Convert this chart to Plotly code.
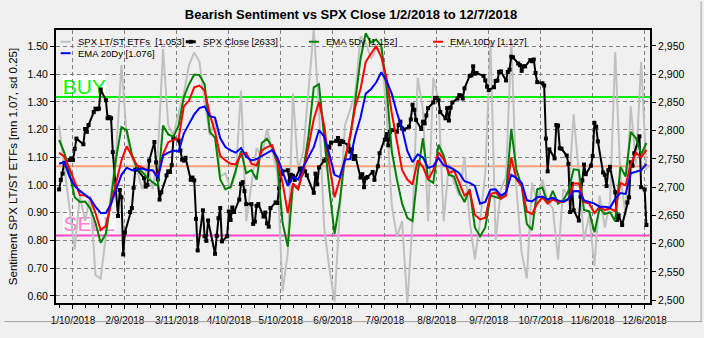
import pandas as pd
import plotly.graph_objects as go

# ---------------- data ----------------
# S&P 500 trading days in 2018 (month -> day of month)
trade_days = {
    1: [2, 3, 4, 5, 8, 9, 10, 11, 12, 16, 17, 18, 19, 22, 23, 24, 25, 26, 29, 30, 31],
    2: [1, 2, 5, 6, 7, 8, 9, 12, 13, 14, 15, 16, 20, 21, 22, 23, 26, 27, 28],
    3: [1, 2, 5, 6, 7, 8, 9, 12, 13, 14, 15, 16, 19, 20, 21, 22, 23, 26, 27, 28, 29],
    4: [2, 3, 4, 5, 6, 9, 10, 11, 12, 13, 16, 17, 18, 19, 20, 23, 24, 25, 26, 27, 30],
    5: [1, 2, 3, 4, 7, 8, 9, 10, 11, 14, 15, 16, 17, 18, 21, 22, 23, 24, 25, 29, 30, 31],
    6: [1, 4, 5, 6, 7, 8, 11, 12, 13, 14, 15, 18, 19, 20, 21, 22, 25, 26, 27, 28, 29],
    7: [2, 3, 5, 6, 9, 10, 11, 12, 13, 16, 17, 18, 19, 20, 23, 24, 25, 26, 27, 30, 31],
    8: [1, 2, 3, 6, 7, 8, 9, 10, 13, 14, 15, 16, 17, 20, 21, 22, 23, 24, 27, 28, 29, 30, 31],
    9: [4, 5, 6, 7, 10, 11, 12, 13, 14, 17, 18, 19, 20, 21, 24, 25, 26, 27, 28],
    10: [1, 2, 3, 4, 5, 8, 9, 10, 11, 12, 15, 16, 17, 18, 19, 22, 23, 24, 25, 26, 29, 30, 31],
    11: [1, 2, 5, 6, 7, 8, 9, 12, 13, 14, 15, 16, 19, 20, 21, 23, 26, 27, 28, 29, 30],
    12: [3, 4, 6, 7],
}

spx_close = [
    2696, 2713, 2724, 2743, 2748, 2751, 2748, 2768, 2786, 2776, 2803, 2798, 2810, 2833, 2839, 2838, 2839, 2873, 2854, 2822, 2824,
    2822, 2762, 2649, 2695, 2682, 2581, 2620, 2656, 2663, 2699, 2731, 2732, 2716, 2701, 2704, 2747, 2780, 2744, 2714,
    2678, 2691, 2721, 2728, 2727, 2739, 2787, 2783, 2765, 2749, 2747, 2752, 2713, 2717, 2712, 2644, 2588, 2659, 2613, 2605, 2641,
    2582, 2614, 2645, 2663, 2604, 2613, 2657, 2642, 2664, 2656, 2678, 2706, 2709, 2693, 2670, 2670, 2635, 2639, 2667, 2670, 2648,
    2655, 2636, 2630, 2663, 2673, 2672, 2698, 2723, 2728, 2730, 2711, 2722, 2720, 2713, 2733, 2724, 2733, 2728, 2721, 2690, 2724, 2705,
    2735, 2747, 2749, 2772, 2770, 2779, 2782, 2787, 2776, 2782, 2780, 2774, 2763, 2767, 2750, 2755, 2717, 2723, 2700, 2716, 2718,
    2727, 2713, 2737, 2760, 2784, 2794, 2774, 2798, 2801, 2798, 2810, 2816, 2804, 2802, 2807, 2820, 2846, 2837, 2819, 2803, 2816,
    2813, 2827, 2840, 2850, 2858, 2858, 2854, 2833, 2822, 2840, 2818, 2841, 2850, 2857, 2863, 2862, 2857, 2875, 2897, 2898, 2914, 2901, 2902,
    2897, 2889, 2878, 2872, 2877, 2888, 2889, 2904, 2905, 2889, 2904, 2908, 2931, 2930, 2919, 2916, 2906, 2914, 2914,
    2925, 2923, 2926, 2902, 2886, 2884, 2880, 2786, 2728, 2767, 2751, 2810, 2809, 2769, 2768, 2756, 2741, 2656, 2706, 2659, 2641, 2683, 2712,
    2740, 2723, 2738, 2755, 2814, 2807, 2781, 2726, 2722, 2702, 2730, 2736, 2691, 2642, 2650, 2633, 2673, 2682, 2744, 2738, 2760,
    2790, 2700, 2696, 2633,
]

# Sentiment: SPX long-term / short-term ETF ratio and its EMAs,
# one value every 3 calendar days starting 1/2/2018
sent_start = "2018-01-02"
sent_step = "3D"

ratio_raw = [
    1.215, 1.066, 0.916, 0.767, 0.962, 0.870, 0.962, 0.675, 0.663, 0.813,
    0.962, 1.123, 1.433, 1.180, 1.100, 1.054, 0.985, 1.077, 0.985, 1.111,
    1.491, 1.215, 1.180, 1.261, 1.330, 1.433, 1.479, 1.445, 1.307, 1.180,
    1.238, 1.031, 1.043, 0.985, 1.043, 1.341, 0.870, 1.008, 1.134, 1.100,
    1.203, 1.123, 1.043, 0.617, 0.755, 1.330, 1.054, 1.123, 1.330, 1.565,
    1.272, 0.847, 0.700, 0.580, 0.905, 1.215, 1.272, 1.330, 1.537, 1.514,
    1.457, 1.491, 1.491, 1.261, 0.928, 0.813, 0.870, 0.571, 0.870, 1.387,
    1.272, 0.870, 1.387, 1.307, 0.870, 1.077, 1.008, 0.962, 1.100, 0.870,
    0.732, 0.870, 1.043, 1.514, 0.801, 0.985, 1.031, 1.525, 0.985, 0.755,
    0.663, 1.008, 0.939, 1.020, 0.939, 0.916, 0.732, 0.985, 0.962, 1.255,
    1.043, 0.801, 0.893, 0.709, 0.962, 0.847, 0.939, 1.480, 1.031, 0.893,
    1.284, 1.077, 1.445, 1.053,
]

ema_5 = [
    1.163, 1.117, 1.043, 0.956, 0.939, 0.941, 0.916, 0.864, 0.792, 0.824,
    0.951, 1.100, 1.209, 1.198, 1.111, 1.060, 1.048, 1.025, 1.010, 0.997,
    1.215, 1.183, 1.175, 1.215, 1.318, 1.364, 1.399, 1.397, 1.364, 1.192,
    1.171, 1.020, 0.985, 0.993, 1.054, 1.123, 1.043, 1.054, 1.020, 1.152,
    1.167, 1.137, 1.077, 0.864, 0.778, 1.002, 0.985, 1.054, 1.180, 1.353,
    1.364, 1.169, 0.985, 0.824, 0.939, 1.100, 1.169, 1.307, 1.456, 1.548,
    1.514, 1.525, 1.502, 1.353, 1.123, 1.020, 0.933, 0.882, 0.870, 1.043,
    1.169, 1.020, 1.008, 1.146, 1.106, 1.037, 1.031, 0.974, 0.939, 0.985,
    0.847, 0.815, 0.847, 0.962, 0.956, 0.951, 0.974, 1.203, 1.054, 0.997,
    0.859, 0.838, 0.985, 0.991, 0.933, 0.979, 0.933, 0.945, 0.979, 1.057,
    1.054, 0.910, 0.905, 0.830, 0.916, 0.895, 0.902, 0.870, 1.066, 1.031,
    1.192, 1.169, 1.111, 1.152,
]

ema_10 = [
    1.117, 1.102, 1.060, 1.008, 0.964, 0.962, 0.951, 0.899, 0.838, 0.853,
    0.933, 1.020, 1.089, 1.140, 1.106, 1.071, 1.063, 1.054, 1.054, 1.031,
    1.111, 1.155, 1.163, 1.169, 1.284, 1.305, 1.353, 1.359, 1.341, 1.255,
    1.192, 1.106, 1.089, 1.077, 1.075, 1.111, 1.117, 1.077, 1.071, 1.125,
    1.137, 1.144, 1.089, 1.008, 0.899, 1.006, 0.987, 1.054, 1.140, 1.238,
    1.301, 1.215, 1.071, 0.956, 1.020, 1.089, 1.180, 1.284, 1.347, 1.445,
    1.474, 1.502, 1.462, 1.387, 1.261, 1.163, 1.054, 1.020, 1.002, 1.089,
    1.066, 1.020, 1.054, 1.117, 1.094, 1.043, 1.052, 1.008, 0.962, 0.979,
    0.893, 0.876, 0.882, 0.968, 0.974, 0.951, 0.962, 1.100, 1.020, 0.997,
    0.905, 0.895, 0.933, 0.956, 0.933, 0.948, 0.939, 0.939, 0.948, 1.006,
    1.006, 0.939, 0.933, 0.899, 0.922, 0.910, 0.916, 0.905, 1.008, 0.999,
    1.077, 1.117, 1.100, 1.127,
]

ema_20 = [
    1.077, 1.083, 1.031, 0.997, 0.979, 0.964, 0.951, 0.922, 0.899, 0.899,
    0.933, 0.985, 1.037, 1.063, 1.054, 1.056, 1.060, 1.054, 1.054, 1.025,
    1.106, 1.117, 1.125, 1.121, 1.186, 1.221, 1.255, 1.278, 1.284, 1.249,
    1.244, 1.169, 1.137, 1.125, 1.117, 1.134, 1.102, 1.089, 1.094, 1.105,
    1.115, 1.126, 1.100, 1.048, 0.997, 1.029, 1.020, 1.066, 1.100, 1.137,
    1.198, 1.175, 1.111, 1.037, 1.029, 1.092, 1.094, 1.180, 1.244, 1.330,
    1.346, 1.370, 1.407, 1.376, 1.330, 1.261, 1.203, 1.123, 1.083, 1.111,
    1.100, 1.062, 1.068, 1.098, 1.071, 1.066, 1.056, 1.043, 1.014, 1.008,
    0.997, 0.933, 0.939, 0.983, 0.985, 0.962, 0.974, 1.037, 1.025, 1.008,
    0.945, 0.941, 0.956, 0.959, 0.948, 0.954, 0.945, 0.939, 0.951, 0.978,
    0.979, 0.945, 0.939, 0.933, 0.922, 0.922, 0.918, 0.951, 0.971, 0.968,
    1.043, 1.048, 1.054, 1.076,
]

ratio_mean = 1.068
ratio_sd = 0.25

x_ticks = ["1/10/2018", "2/9/2018", "3/11/2018", "4/10/2018", "5/10/2018", "6/9/2018",
           "7/9/2018", "8/8/2018", "9/7/2018", "10/7/2018", "11/6/2018", "12/6/2018"]
left_ticks = [0.60, 0.70, 0.80, 0.90, 1.00, 1.10, 1.20, 1.30, 1.40, 1.50]
right_ticks = [2500, 2550, 2600, 2650, 2700, 2750, 2800, 2850, 2900, 2950]

# ---------------- build ----------------
spx_dates = [pd.Timestamp(2018, m, d) for m, days in trade_days.items() for d in days]
sent_dates = pd.date_range(sent_start, periods=len(ratio_raw), freq=sent_step)
tick_dates = [pd.to_datetime(t, format="%m/%d/%Y") for t in x_ticks]

W, H = 704, 338
L, R, T, B = 52, 54, 30, 22
PW, PH = W - L - R, H - T - B


def px(xp):
    return (xp - L) / PW


def py(yp):
    return (H - B - yp) / PH


FONT = "Liberation Sans, Arial, sans-serif"
GRAY = "#c0c0c0"
GREEN = "#008000"
RED = "#ff0000"
BLUE = "#0000ff"

fig = go.Figure()

fig.add_trace(go.Scatter(x=sent_dates, y=ratio_raw, mode="lines",
                         line=dict(color=GRAY, width=2), yaxis="y", showlegend=False))
fig.add_trace(go.Scatter(x=spx_dates, y=spx_close, mode="lines+markers",
                         line=dict(color="#000000", width=2),
                         marker=dict(symbol="square", size=4, color="#000000"),
                         yaxis="y2", showlegend=False))
for vals, col in ((ema_5, GREEN), (ema_10, RED), (ema_20, BLUE)):
    fig.add_trace(go.Scatter(x=sent_dates, y=vals, mode="lines",
                             line=dict(color=col, width=2), yaxis="y3", showlegend=False))

y_range = [0.5745, 1.5597]
shapes = []
# mean and +/- 1 sd levels
for lvl, col in ((ratio_mean + ratio_sd, "#00ee00"), (ratio_mean, "#ffa07a"), (ratio_mean - ratio_sd, "#ff44cc")):
    shapes.append(dict(type="line", xref="paper", yref="y", x0=0, x1=1, y0=lvl, y1=lvl,
                       line=dict(color=col, width=2), layer="between"))

# BUY / SELL tags
shapes.append(dict(type="rect", xref="paper", yref="paper", x0=px(59), x1=px(102), y0=py(98), y1=py(77),
                   fillcolor="#ffffff", line=dict(width=0), layer="between",
                   label=dict(text="BUY", font=dict(family=FONT, size=21, color="#00ff00"))))
shapes.append(dict(type="rect", xref="paper", yref="paper", x0=px(59), x1=px(112), y0=py(243), y1=py(218),
                   fillcolor="#fafafa", line=dict(width=0), layer="between",
                   label=dict(text="SELL", font=dict(family=FONT, size=21, color="#ff80d0"))))

# legend glyphs and labels
annotations = []
legend_items = [
    (56.7, 42.3, GRAY, f"SPX LT/ST ETFs\u00a0 [{ratio_raw[-1]:.3f}]", False),
    (182.7, 42.3, "#000000", f"SPX Close [{spx_close[-1]}]", True),
    (306.7, 42.3, GREEN, f"EMA 5Dy [{ema_5[-1]:.3f}]", False),
    (431.7, 42.3, RED, f"EMA 10Dy [{ema_10[-1]:.3f}]", False),
    (56.7, 54.3, BLUE, f"EMA 20Dy [{ema_20[-1]:.3f}]", False),
]
for x0, yy, col, label, marker in legend_items:
    shapes.append(dict(type="line", xref="paper", yref="paper", x0=px(x0), x1=px(x0 + 10),
                       y0=py(yy), y1=py(yy), line=dict(color=col, width=3 if marker else 2)))
    if marker:
        shapes.append(dict(type="rect", xref="paper", yref="paper", x0=px(x0 + 3), x1=px(x0 + 7),
                           y0=py(yy + 2), y1=py(yy - 2), fillcolor="#000000", line=dict(width=0)))
    annotations.append(dict(xref="paper", yref="paper", x=px(x0 + 15), y=py(yy), text=label,
                            showarrow=False, xanchor="left", yanchor="middle",
                            font=dict(family=FONT, size=9.5, color="#000000")))

# window frame
shapes.append(dict(type="line", xref="paper", yref="paper", x0=px(701.5), x1=px(701.5), y0=py(0), y1=py(336),
                   line=dict(color="#a0a0a0", width=1)))
shapes.append(dict(type="line", xref="paper", yref="paper", x0=px(0), x1=px(702), y0=py(335.5), y1=py(335.5),
                   line=dict(color="#a0a0a0", width=1)))

x_font = dict(family=FONT, size=10, color="#000000")
y_font = dict(family=FONT, size=10.5, color="#000000")

fig.update_layout(
    width=W, height=H,
    margin=dict(l=L, r=R, t=T, b=B, pad=0),
    paper_bgcolor="#f0f0f0", plot_bgcolor="#f0f0f0",
    title=dict(text="<b>Bearish Sentiment vs SPX Close 1/2/2018 to 12/7/2018</b>",
               x=(L + PW / 2) / W, xanchor="center", y=1 - 14 / H, yanchor="middle",
               font=dict(family=FONT, size=13, color="#000000")),
    xaxis=dict(type="date", range=["2017-12-31 05:00", "2018-12-09 02:00"],
               tickvals=tick_dates, ticktext=x_ticks, tickfont=x_font,
               ticks="outside", ticklen=4, tickcolor="#000000", ticklabelstandoff=3,
               showgrid=True, gridcolor="#808080", griddash="4px,3px", gridwidth=1,
               showline=True, linecolor="#000000", linewidth=2, mirror=True,
               minor=dict(tick0="2018-01-10", dtick=7.5 * 86400000, ticks="outside",
                          ticklen=3, tickcolor="#000000", showgrid=False),
               zeroline=False),
    yaxis=dict(range=y_range, tickvals=left_ticks, ticktext=[f"{v:.2f}" for v in left_ticks],
               tickfont=y_font, ticks="outside", ticklen=4, tickcolor="#000000",
               showgrid=True, gridcolor="#808080", griddash="4px,3px", gridwidth=1,
               showline=True, linecolor="#000000", linewidth=2, zeroline=False,
               title=dict(text="Sentiment SPX LT/ST ETFs [mn 1.07, sd 0.25]",
                          font=dict(family=FONT, size=11.5, color="#000000"), standoff=7)),
    yaxis2=dict(range=[2494.9, 2978.3], overlaying="y", side="right",
                tickvals=right_ticks, tickformat=",d", tickfont=y_font,
                ticks="outside", ticklen=4, tickcolor="#000000",
                showgrid=False, showline=True, linecolor="#000000", linewidth=2, zeroline=False),
    yaxis3=dict(range=y_range, overlaying="y", visible=False),
    shapes=shapes,
    annotations=annotations,
)

fig.write_html("out.html")
